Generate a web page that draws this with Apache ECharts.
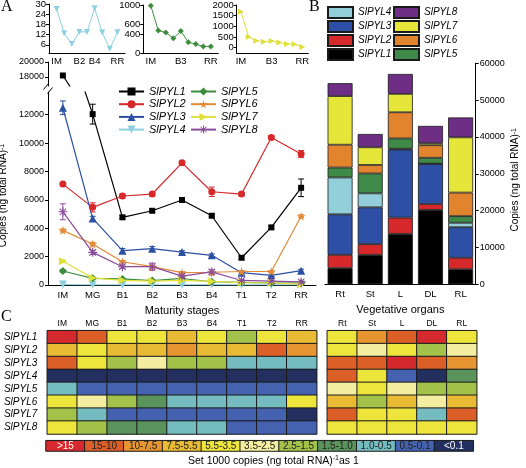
<!DOCTYPE html>
<html><head><meta charset="utf-8">
<script src="https://cdn.jsdelivr.net/npm/echarts@6/dist/echarts.min.js"></script>
<style>html,body{margin:0;padding:0;background:#fff}#c{width:526px;height:468px}</style>
</head><body><div id="c"></div>
<script>
// ---------- DATA ----------
const stages = ['IM','MG','B1','B2','B3','B4','T1','T2','RR'];
const organs = ['Rt','St','L','DL','RL'];
const genes = ['SlPYL1','SlPYL2','SlPYL3','SlPYL4','SlPYL5','SlPYL6','SlPYL7','SlPYL8'];

// Panel A: copies (ng total RNA)^-1 across maturity stages
const stagePYL1 = [18200, 12040, 4770, 5230, 5990, 4880, 1920, 4060, 6850];
const stagePYL2 = [7110, 5470, 6270, 6410, 8610, 6570, 6410, 10400, 9230];
const stagePYL3 = [12490, 4690, 2420, 2560, 2320, 2090, 870, 680, 1010];
const stagePYL4 = [27, 12.8, 6.4, 13.6, 13.6, 27.5, 13.2, 3.7, 13.4];
const stagePYL5 = [985, 470, 430, 310, 460, 230, 190, 140, 140];
const stagePYL6 = [3850, 2890, 1640, 1290, 870, 900, 950, 950, 4850];
const stagePYL7 = [1680, 500, 330, 280, 320, 250, 170, 160, 40];
const stagePYL8 = [5160, 2300, 1290, 1290, 630, 920, 320, 270, 220];
// error (± SD)
const errPYL1 = [0, 700, 120, 100, 100, 100, 120, 100, 620];
const errPYL2 = [120, 320, 150, 120, 100, 330, 120, 120, 250];
const errPYL3 = [480, 150, 150, 150, 100, 100, 100, 80, 100];
const errPYL4 = [0, 0, 0, 0, 0, 0, 0, 0, 0];
const errPYL5 = [100, 60, 40, 40, 40, 30, 20, 20, 20];
const errPYL6 = [100, 120, 80, 80, 60, 60, 60, 60, 100];
const errPYL7 = [100, 50, 30, 30, 30, 30, 20, 20, 10];
const errPYL8 = [560, 150, 120, 250, 80, 150, 60, 50, 40];

// Panel B: vegetative organs (stacked)
const organPYL1 = [4400, 8000, 13700, 20200, 4100];
const organPYL2 = [3600, 2900, 4400, 1600, 3100];
const organPYL3 = [11000, 10000, 18500, 10900, 8300];
const organPYL4 = [10000, 3800, 200, 50, 1200];
const organPYL5 = [2700, 5400, 2800, 1600, 1800];
const organPYL6 = [6200, 2300, 7100, 3400, 6400];
const organPYL7 = [13200, 4800, 5000, 550, 15000];
const organPYL8 = [3500, 3600, 5400, 4700, 5400];

// Panel C: level index per cell (0 = >15 ... 10 = <0.1), rows SlPYL1..8
const heatStage = [
  [0,1,4,4,3,4,6,4,3],
  [3,4,3,3,2,3,3,1,2],
  [1,4,6,5,6,6,8,8,8],
  [10,10,10,10,10,10,10,10,10],
  [8,9,9,9,9,9,9,9,9],
  [4,5,6,7,8,8,8,8,4],
  [6,8,9,9,9,9,9,9,10],
  [4,6,7,7,8,8,9,9,9]
];
const heatOrgan = [
  [4,2,1,0,4],
  [4,5,4,6,5],
  [1,1,0,1,2],
  [1,4,9,10,7],
  [5,4,5,6,6],
  [3,6,3,5,3],
  [1,4,4,8,1],
  [4,4,4,4,4]
];
const levelLabels = ['>15','15-10','10-7.5','7.5-5.5','5.5-3.5','3.5-2.5','2.5-1.5','1.5-1.0','1.0-0.5','0.5-0.1','<0.1'];

// tick values
const mainTicks = [0,2000,4000,6000,8000,10000,12000];
const breakTicks = [18000,20000];
const inset4Ticks = [6,12,18,24,30];
const inset5Ticks = [0,200,400,600,800,1000];
const inset7Ticks = [0,500,1000,1500,2000];
const inset4LabelPos = [1,4,6,9];
const inset57LabelPos = [1,5,9];

// ---------- STYLE ----------
const FONT = 'Liberation Sans, Arial, sans-serif';
const lineColors = ['#000000','#d7282b','#2b4fa3','#8dd0df','#3f8c3f','#e28a3a','#e0e03a','#8a4b9c'];
const barColors = ['#000000','#d7282b','#2d4fa5','#93cfdb','#3f8a48','#e2842e','#e6e53a','#6f2e86'];
const levelColors = ['#d42a2e','#dc5f27','#e69530','#e9bb35','#ede53c','#f3eea0','#a3c24a','#5a935c','#74bcbf','#4462b0','#232f5e'];
const STAR = 'path://M50,0 L61,35 L98,35 L68,57 L79,91 L50,70 L21,91 L32,57 L2,35 L39,35 Z';
const AST = 'path://M0,4.4 L10,4.4 L10,5.6 L0,5.6 Z M4.4,0 L5.6,0 L5.6,10 L4.4,10 Z M1.0,1.8 L1.8,1.0 L9.0,8.2 L8.2,9.0 Z M8.2,1.0 L9.0,1.8 L1.8,9.0 L1.0,8.2 Z';
const symbols = [
  {s:'rect', z:6, r:0}, {s:'circle', z:7, r:0}, {s:'triangle', z:8, r:0}, {s:'triangle', z:8, r:180},
  {s:'diamond', z:8, r:0}, {s:STAR, z:9, r:0}, {s:'triangle', z:8, r:-90}, {s:AST, z:9, r:0}
];

const stageSeries = [stagePYL1,stagePYL2,stagePYL3,stagePYL4,stagePYL5,stagePYL6,stagePYL7,stagePYL8];
const stageErrs = [errPYL1,errPYL2,errPYL3,errPYL4,errPYL5,errPYL6,errPYL7,errPYL8];
const organSeries = [organPYL1,organPYL2,organPYL3,organPYL4,organPYL5,organPYL6,organPYL7,organPYL8];

const axLine = {show:true, onZero:false, lineStyle:{color:'#000', width:1}};
const plain = (v)=>String(v);
const lbl = (o) => Object.assign({color:'#000', fontFamily:FONT, fontSize:9, formatter:plain,
  showMinLabel:true, showMaxLabel:true, hideOverlap:false}, o||{});

const series = [];
// error bars
stageSeries.forEach((vals,k)=>{
  series.push({
    type:'custom', name:'err-'+genes[k], xAxisIndex:0, yAxisIndex:0, z:1, silent:true,
    data: vals.map((v,i)=>[i, v, stageErrs[k][i]]),
    encode:{x:0, y:1},
    renderItem:(params, api)=>{
      const x=api.value(0), y=api.value(1), e=api.value(2);
      if(!e) return null;
      const p1=api.coord([x,y+e]), p2=api.coord([x,y-e]);
      const c=lineColors[k], w=3;
      const st={stroke:c, lineWidth:1};
      return {type:'group', children:[
        {type:'line', shape:{x1:p1[0],y1:p1[1],x2:p2[0],y2:p2[1]}, style:st},
        {type:'line', shape:{x1:p1[0]-w,y1:p1[1],x2:p1[0]+w,y2:p1[1]}, style:st},
        {type:'line', shape:{x1:p2[0]-w,y1:p2[1],x2:p2[0]+w,y2:p2[1]}, style:st}
      ]};
    }
  });
});
// main lines (lower & upper segment of broken axis)
genes.forEach((g,k)=>{
  series.push({
    type:'line', name:g, xAxisIndex:0, yAxisIndex:0, symbol:symbols[k].s, symbolSize:symbols[k].z,
    symbolRotate:symbols[k].r, lineStyle:{color:lineColors[k], width:1.2}, itemStyle:{color:lineColors[k]},
    data:stageSeries[k], z:3, clip:true
  });
});
genes.forEach((g,k)=>{
  series.push({
    type:'line', name:'top-'+g, xAxisIndex:1, yAxisIndex:1, symbol:symbols[k].s, symbolSize:symbols[k].z,
    symbolRotate:symbols[k].r, lineStyle:{color:lineColors[k], width:1.2}, itemStyle:{color:lineColors[k]},
    data:stageSeries[k], z:3, clip:true
  });
});
// insets
[[3,2],[4,3],[6,4]].forEach(([k,ax])=>{
  series.push({
    type:'line', name:'inset-'+genes[k], xAxisIndex:ax, yAxisIndex:ax,
    symbol:symbols[k].s, symbolSize:6, symbolRotate:symbols[k].r,
    lineStyle:{color:lineColors[k], width:1}, itemStyle:{color:lineColors[k]},
    data: stageSeries[k].map((v,i)=>[i+1, v])
  });
});
// stacked bars
organSeries.forEach((vals,k)=>{
  series.push({
    type:'bar', name:'B-'+genes[k], stack:'organ', xAxisIndex:5, yAxisIndex:5, barWidth:25,
    itemStyle:{color:barColors[k], borderColor:'#1a1a1a', borderWidth:0.8}, data:vals
  });
});
// heatmaps
const heatIdx = [];
const hsData=[]; heatStage.forEach((row,r)=>row.forEach((lv,c)=>hsData.push([c,r,lv])));
const hoData=[]; heatOrgan.forEach((row,r)=>row.forEach((lv,c)=>hoData.push([c,r,lv])));
heatIdx.push(series.length);
series.push({type:'heatmap', name:'heatStage', xAxisIndex:6, yAxisIndex:6, data:hsData,
  itemStyle:{borderColor:'#1a1a1a', borderWidth:1}, emphasis:{disabled:true}});
heatIdx.push(series.length);
series.push({type:'heatmap', name:'heatOrgan', xAxisIndex:7, yAxisIndex:7, data:hoData,
  itemStyle:{borderColor:'#1a1a1a', borderWidth:1}, emphasis:{disabled:true}});
heatIdx.push(series.length);
series.push({type:'heatmap', name:'heatKey', xAxisIndex:8, yAxisIndex:8,
  data: levelLabels.map((t,i)=>[i,0,i]),
  itemStyle:{borderColor:'#1a1a1a', borderWidth:1}, emphasis:{disabled:true},
  label:{show:true, fontFamily:FONT, fontSize:10,
    formatter:(p)=>{const i=p.value[2]; return (i===0||i===10)?'{w|'+levelLabels[i]+'}':'{d|'+levelLabels[i]+'}';},
    rich:{w:{color:'#ffffff', fontSize:10, fontFamily:FONT}, d:{color:'#222', fontSize:10, fontFamily:FONT}}}
});

const noSplit = {show:false};
const option = {
  animation:false,
  textStyle:{fontFamily:FONT},
  title:[
    {text:'A', left:1, top:-1, padding:0, textStyle:{fontFamily:'Liberation Serif', fontSize:16, fontWeight:'normal', color:'#000'}},
    {text:'B', left:309, top:-1, padding:0, textStyle:{fontFamily:'Liberation Serif', fontSize:16, fontWeight:'normal', color:'#000'}},
    {text:'C', left:1, top:309, padding:0, textStyle:{fontFamily:'Liberation Serif', fontSize:16, fontWeight:'normal', color:'#000'}},
    {text:'Set 1000 copies (ng total RNA){sup|-1}as 1', left:188, top:455, padding:0,
     textStyle:{fontFamily:FONT, fontSize:10.5, fontWeight:'normal', color:'#000',
       rich:{sup:{fontSize:7, verticalAlign:'top', fontFamily:FONT, color:'#000', padding:[0,0,5,0]}}}}
  ],
  legend:[
    {data:genes.slice(0,4), orient:'vertical', left:118, top:86, padding:0, itemWidth:25, itemHeight:10, itemGap:1.7,
     selectedMode:false, textStyle:{fontFamily:FONT, fontSize:11, fontStyle:'italic', color:'#000'}},
    {data:genes.slice(4,8), orient:'vertical', left:190, top:86, padding:0, itemWidth:25, itemHeight:10, itemGap:1.7,
     selectedMode:false, textStyle:{fontFamily:FONT, fontSize:11, fontStyle:'italic', color:'#000'}},
    {data:['B-SlPYL4','B-SlPYL3','B-SlPYL2','B-SlPYL1'], orient:'vertical', left:327, top:6, padding:0, icon:'rect',
     itemWidth:25, itemHeight:11, itemGap:1, selectedMode:false, formatter:(n)=>n.replace('B-',''),
     textStyle:{fontFamily:FONT, fontSize:10, fontStyle:'italic', color:'#000'}},
    {data:['B-SlPYL8','B-SlPYL7','B-SlPYL6','B-SlPYL5'], orient:'vertical', left:393, top:6, padding:0, icon:'rect',
     itemWidth:25, itemHeight:11, itemGap:1, selectedMode:false, formatter:(n)=>n.replace('B-',''),
     textStyle:{fontFamily:FONT, fontSize:10, fontStyle:'italic', color:'#000'}}
  ],
  visualMap:{type:'piecewise', show:false, dimension:2, seriesIndex:heatIdx,
    pieces: levelColors.map((c,i)=>({value:i, color:c}))},
  grid:[
    {left:48, top:92, width:268, height:193, outerBoundsMode:'none'},
    {left:48, top:62, width:268, height:24, outerBoundsMode:'none'},
    {left:49, top:4, width:76, height:49.3, outerBoundsMode:'none'},
    {left:143.3, top:5, width:75, height:48.3, outerBoundsMode:'none'},
    {left:236.7, top:5, width:71.6, height:48.3, outerBoundsMode:'none'},
    {left:325, top:63.3, width:150.7, height:221, outerBoundsMode:'none'},
    {left:47.3, top:330.7, width:269.4, height:103.3, outerBoundsMode:'none'},
    {left:327.3, top:330.7, width:149.4, height:103.3, outerBoundsMode:'none'},
    {left:46, top:440.7, width:427.3, height:10.3, outerBoundsMode:'none'}
  ],
  xAxis:[
    {gridIndex:0, type:'category', data:stages, boundaryGap:true, axisLine:axLine,
     axisTick:{alignWithLabel:true, length:3, lineStyle:{color:'#000'}},
     axisLabel:{color:'#000', fontFamily:FONT, fontSize:9.5, margin:5, interval:0},
     splitLine:noSplit, name:'Maturity stages', nameLocation:'middle', nameGap:20,
     nameTextStyle:{fontFamily:FONT, fontSize:11, color:'#000'}},
    {gridIndex:1, type:'category', data:stages, boundaryGap:true, show:false},
    {gridIndex:2, type:'value', min:0, max:10, axisLine:axLine, axisTick:{show:false}, splitLine:noSplit,
     axisLabel:lbl({fontSize:9.5, margin:3, customValues:inset4LabelPos, formatter:(v)=>stages[v-1]})},
    {gridIndex:3, type:'value', min:0, max:10, axisLine:axLine, axisTick:{show:false}, splitLine:noSplit,
     axisLabel:lbl({fontSize:9.5, margin:3, customValues:inset57LabelPos, formatter:(v)=>stages[v-1]})},
    {gridIndex:4, type:'value', min:0.44, max:9.78, axisLine:axLine, axisTick:{show:false}, splitLine:noSplit,
     axisLabel:lbl({fontSize:9.5, margin:3, customValues:inset57LabelPos, formatter:(v)=>stages[v-1]})},
    {gridIndex:5, type:'category', data:organs, boundaryGap:true, axisLine:axLine,
     axisTick:{length:3, lineStyle:{color:'#000'}},
     axisLabel:{color:'#000', fontFamily:FONT, fontSize:9.5, margin:5, interval:0},
     name:'Vegetative organs', nameLocation:'middle', nameGap:20,
     nameTextStyle:{fontFamily:FONT, fontSize:11, color:'#000'}},
    {gridIndex:6, type:'category', data:stages, position:'top', axisLine:{show:false}, axisTick:{show:false},
     axisLabel:{color:'#000', fontFamily:FONT, fontSize:8.5, margin:3, interval:0}},
    {gridIndex:7, type:'category', data:organs, position:'top', axisLine:{show:false}, axisTick:{show:false},
     axisLabel:{color:'#000', fontFamily:FONT, fontSize:8.5, margin:3, interval:0}},
    {gridIndex:8, type:'category', data:levelLabels, show:false}
  ],
  yAxis:[
    {gridIndex:0, type:'value', min:0, max:13600, axisLine:axLine, splitLine:noSplit,
     axisTick:{show:true, length:3, customValues:mainTicks, lineStyle:{color:'#000'}},
     axisLabel:lbl({customValues:mainTicks, margin:4}),
     name:'Copies (ng total RNA){sup|-1}', nameLocation:'middle', nameGap:34,
     nameTextStyle:{fontFamily:FONT, fontSize:10, color:'#000', padding:[0,14,0,0],
       rich:{sup:{fontSize:7, verticalAlign:'top', fontFamily:FONT, color:'#000'}}}},
    {gridIndex:1, type:'value', min:16800, max:20000, axisLine:axLine, splitLine:noSplit,
     axisTick:{show:true, length:3, customValues:breakTicks, lineStyle:{color:'#000'}},
     axisLabel:lbl({customValues:breakTicks, margin:4})},
    {gridIndex:2, type:'value', min:1, max:30, axisLine:axLine, splitLine:noSplit,
     axisTick:{show:true, length:3, customValues:inset4Ticks, lineStyle:{color:'#000'}},
     axisLabel:lbl({customValues:inset4Ticks, margin:3, fontSize:9.5})},
    {gridIndex:3, type:'value', min:0, max:1000, interval:200, axisLine:axLine, splitLine:noSplit,
     axisTick:{show:true, length:3, lineStyle:{color:'#000'}},
     axisLabel:lbl({margin:3, fontSize:9.5})},
    {gridIndex:4, type:'value', min:-260, max:2000, axisLine:axLine, splitLine:noSplit,
     axisTick:{show:true, length:3, customValues:inset7Ticks, lineStyle:{color:'#000'}},
     axisLabel:lbl({customValues:inset7Ticks, margin:3, fontSize:9.5})},
    {gridIndex:5, type:'value', position:'right', min:0, max:60000, interval:10000, axisLine:axLine, splitLine:noSplit,
     axisTick:{show:true, length:3, lineStyle:{color:'#000'}}, axisLabel:lbl({margin:4}),
     name:'Copies (ng total RNA){sup|-1}', nameLocation:'middle', nameGap:35,
     nameTextStyle:{fontFamily:FONT, fontSize:10, color:'#000', padding:[0,12,0,0],
       rich:{sup:{fontSize:7, verticalAlign:'top', fontFamily:FONT, color:'#000'}}}},
    {gridIndex:6, type:'category', data:genes, inverse:true, axisLine:{show:false}, axisTick:{show:false},
     axisLabel:{color:'#000', fontFamily:FONT, fontSize:10, fontStyle:'italic', margin:10, interval:0}},
    {gridIndex:7, type:'category', data:genes, inverse:true, show:false},
    {gridIndex:8, type:'category', data:['key'], show:false}
  ],
  graphic:[
    {type:'line', shape:{x1:43.5, y1:89.5, x2:48.5, y2:83.5}, style:{stroke:'#000', lineWidth:1}},
    {type:'line', shape:{x1:47.5, y1:93.5, x2:52.5, y2:87.5}, style:{stroke:'#000', lineWidth:1}}
  ],
  series: series
};
const chart = echarts.init(document.getElementById('c'), null, {renderer:'canvas'});
chart.setOption(option);
</script></body></html>
